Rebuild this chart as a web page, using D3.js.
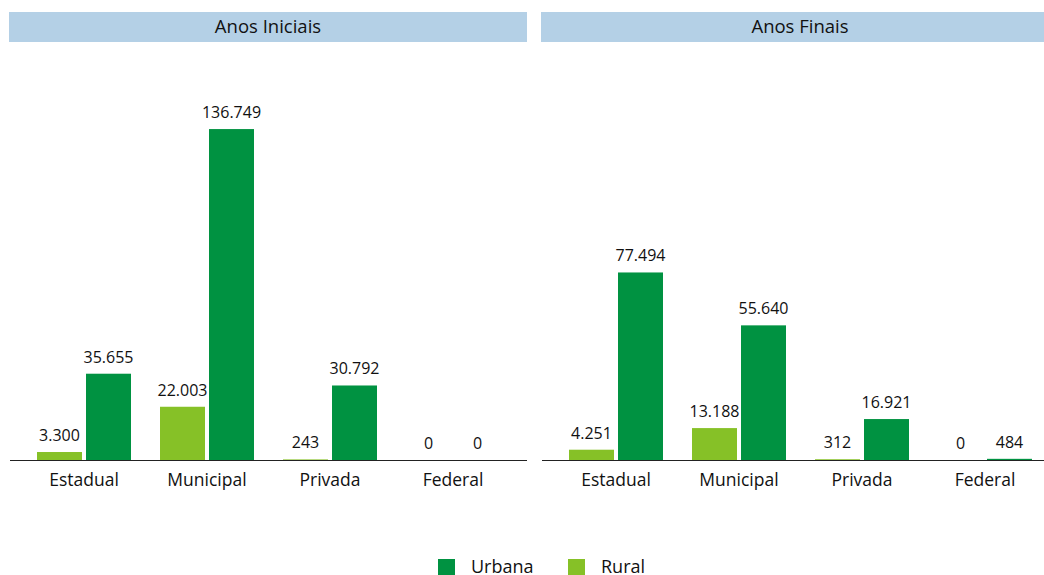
<!DOCTYPE html>
<html>
<head>
<meta charset="utf-8">
<script src="https://cdn.jsdelivr.net/npm/d3@7"></script>
<style>
  body { margin: 0; background: #fff; }
  svg text { font-family: "Open Sans", sans-serif; fill: #111; }
</style>
</head>
<body>
<div id="chart"></div>
<script>
// categories and series
const categories = ['Estadual', 'Municipal', 'Privada', 'Federal'];
const series = ['Rural', 'Urbana'];
const panels = ['Anos Iniciais', 'Anos Finais'];

const ruralIniciais = [3300, 22003, 243, 0];
const urbanaIniciais = [35655, 136749, 30792, 0];
const ruralFinais = [4251, 13188, 312, 0];
const urbanaFinais = [77494, 55640, 16921, 484];

const colors = { Urbana: '#009241', Rural: '#86c127' };

const panelData = [
  { title: panels[0], rural: ruralIniciais, urbana: urbanaIniciais },
  { title: panels[1], rural: ruralFinais, urbana: urbanaFinais }
];

const width = 1044, height = 575;
const panelWidth = 518;
const panelX = [9, 541];
const baseline = 460;

const svg = d3.select('#chart').append('svg')
  .attr('width', width)
  .attr('height', height);

// shared value scale for both panels
const y = d3.scaleLinear()
  .domain([0, 150000])
  .range([baseline, 97]);

const fmt = v => d3.format(',')(v).replace(/,/g, '.');

panelData.forEach((p, i) => {
  const g = svg.append('g').attr('transform', `translate(${panelX[i]},0)`);

  // header strip
  g.append('rect')
    .attr('x', 0).attr('y', 12)
    .attr('width', panelWidth).attr('height', 30)
    .attr('fill', '#b4d0e6');
  g.append('text')
    .attr('x', panelWidth / 2).attr('y', 33)
    .attr('text-anchor', 'middle')
    .style('font-size', '18.5px')
    .text(p.title);

  const x0 = d3.scaleBand()
    .domain(categories)
    .range([13.5, 13.5 + 123 * 4]);
  const x1 = d3.scaleBand()
    .domain(series)
    .range([14.5, 108.5])
    .paddingInner(0.082);

  const rows = [];
  categories.forEach((c, k) => {
    rows.push({ cat: c, s: 'Rural', v: p.rural[k] });
    rows.push({ cat: c, s: 'Urbana', v: p.urbana[k] });
  });

  g.selectAll('.bar')
    .data(rows)
    .enter().append('rect')
    .attr('class', 'bar')
    .attr('x', d => x0(d.cat) + x1(d.s))
    .attr('y', d => y(d.v))
    .attr('width', x1.bandwidth())
    .attr('height', d => baseline - y(d.v))
    .attr('fill', d => colors[d.s]);

  g.selectAll('.val')
    .data(rows)
    .enter().append('text')
    .attr('class', 'val')
    .attr('x', d => x0(d.cat) + x1(d.s) + x1.bandwidth() / 2)
    .attr('y', d => y(d.v) - 11)
    .attr('text-anchor', 'middle')
    .style('font-size', '16px')
    .text(d => fmt(d.v));

  // axis line
  g.append('line')
    .attr('x1', 1).attr('x2', panelWidth)
    .attr('y1', baseline + 0.5).attr('y2', baseline + 0.5)
    .attr('stroke', '#222')
    .attr('stroke-width', 1.2);

  g.selectAll('.cat')
    .data(categories)
    .enter().append('text')
    .attr('class', 'cat')
    .attr('x', d => x0(d) + x0.bandwidth() / 2)
    .attr('y', 486)
    .attr('text-anchor', 'middle')
    .style('font-size', '17.5px')
    .text(d => d);
});

// legend
const legendItems = [
  { name: 'Urbana', x: 438 },
  { name: 'Rural', x: 568 }
];
const legend = svg.append('g');
legend.selectAll('rect')
  .data(legendItems)
  .enter().append('rect')
  .attr('x', d => d.x).attr('y', 559)
  .attr('width', 17).attr('height', 17)
  .attr('fill', d => colors[d.name]);
legend.selectAll('text')
  .data(legendItems)
  .enter().append('text')
  .attr('x', d => d.x + 33).attr('y', 573)
  .style('font-size', '18px')
  .text(d => d.name);
</script>
</body>
</html>
